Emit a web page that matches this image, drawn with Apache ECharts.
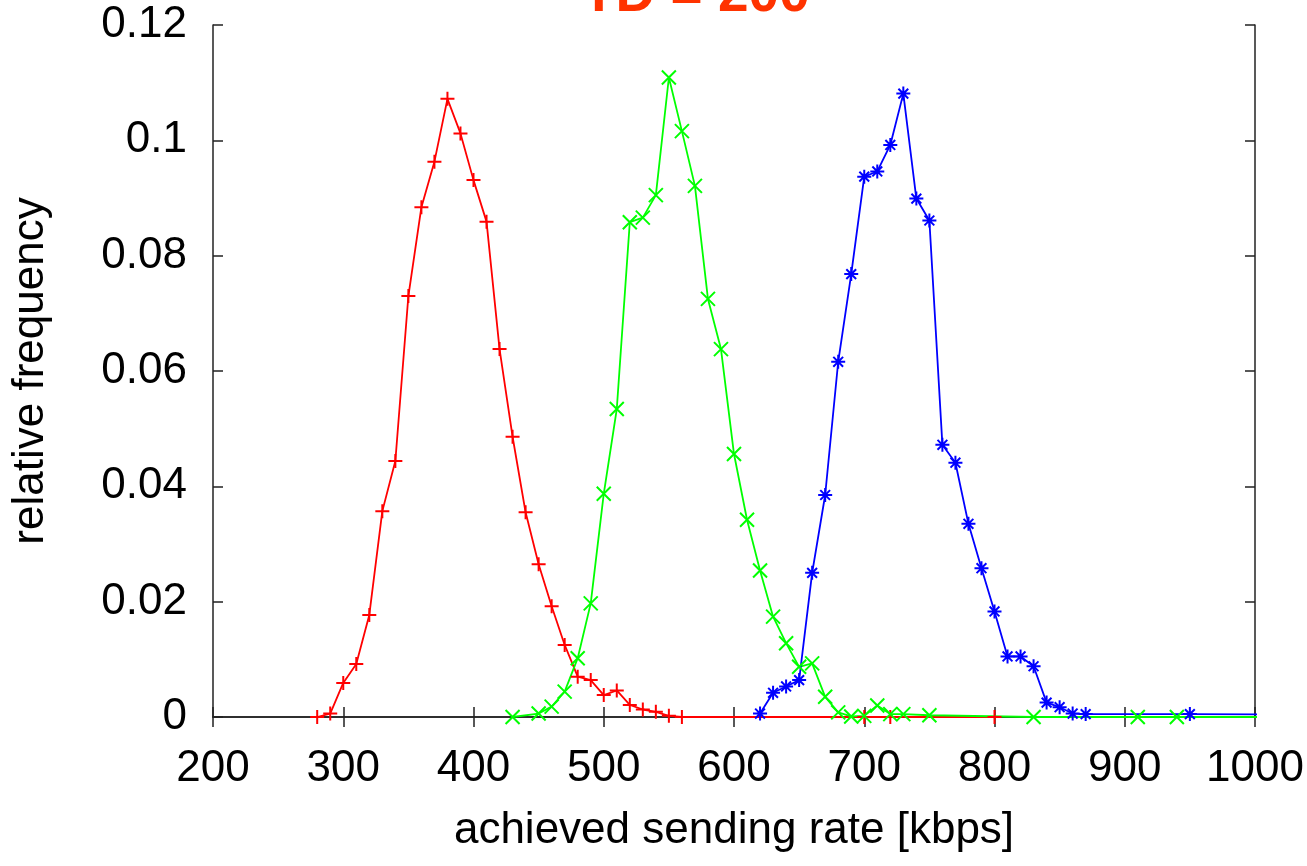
<!DOCTYPE html>
<html>
<head>
<meta charset="utf-8">
<script src="https://cdn.jsdelivr.net/npm/echarts@6/dist/echarts.min.js"></script>
<style>
  html, body { margin: 0; padding: 0; background: #fff; }
  #main { width: 1307px; height: 866px; }
</style>
</head>
<body>
<div id="main"></div>
<script>
// sending rate [kbps] and relative frequency
var redRate  = [280, 290, 300, 310, 320, 330, 340, 350, 360, 370, 380, 390, 400, 410, 420, 430, 440, 450, 460, 470, 480, 490, 500, 510, 520, 530, 540, 550, 560, 700, 720, 800];
var redFreq  = [0, 0.0006, 0.0059, 0.0092, 0.0177, 0.0357, 0.0444, 0.073, 0.0884, 0.0963, 0.1072, 0.1012, 0.0931, 0.0859, 0.0638, 0.0486, 0.0355, 0.0265, 0.0192, 0.0125, 0.0070, 0.0064, 0.0038, 0.0046, 0.0021, 0.0013, 0.0009, 0.0002, 0, 0, 0, 0];

var greenRate = [430, 450, 460, 470, 480, 490, 500, 510, 520, 530, 540, 550, 560, 570, 580, 590, 600, 610, 620, 630, 640, 650, 660, 670, 680, 690, 700, 710, 720, 730, 750, 830, 910, 940, 1050];
var greenFreq = [0, 0.0006, 0.0018, 0.0044, 0.0102, 0.0197, 0.0387, 0.0534, 0.0858, 0.0866, 0.0905, 0.1109, 0.1016, 0.0921, 0.0725, 0.0638, 0.0456, 0.0342, 0.0254, 0.0174, 0.0128, 0.0087, 0.0093, 0.0035, 0.0008, 0.0001, 0.0002, 0.002, 0.0005, 0.0005, 0.0003, 0, 0, 0, 0];

var blueRate = [620, 630, 640, 650, 660, 670, 680, 690, 700, 710, 720, 730, 740, 750, 760, 770, 780, 790, 800, 810, 820, 830, 840, 850, 860, 870, 950, 1050];
var blueFreq = [0.0006, 0.0042, 0.0053, 0.0064, 0.025, 0.0385, 0.0616, 0.0768, 0.0937, 0.0946, 0.0992, 0.1081, 0.0899, 0.0861, 0.0472, 0.0441, 0.0335, 0.0258, 0.0183, 0.0105, 0.0105, 0.0088, 0.0025, 0.0017, 0.0006, 0.0005, 0.0005, 0.0004];

var xTicks = [200, 300, 400, 500, 600, 700, 800, 900, 1000];
var yTicks = [0, 0.02, 0.04, 0.06, 0.08, 0.1, 0.12];

function pairs(xs, ys) {
    return xs.map(function (x, i) { return [x, ys[i]]; });
}

// gnuplot style point shapes
var plusMark  = 'path://M0,5L10,5M5,0L5,10';
var crossMark = 'path://M0,0L10,10M10,0L0,10';
var starMark  = 'path://M0,5L10,5M5,0L5,10M1.5,1.5L8.5,8.5M8.5,1.5L1.5,8.5';

function lineSeries(data, color, mark) {
    return {
        type: 'line',
        data: data,
        symbol: mark,
        symbolSize: 14,
        showAllSymbol: true,
        clip: true,
        animation: false,
        lineStyle: { color: color, width: 1.8 },
        itemStyle: { color: 'none', borderColor: color, borderWidth: 2 },
        emphasis: { disabled: true }
    };
}

var tickFont = { fontFamily: 'Liberation Sans', fontSize: 44, color: '#000' };
var frameLine = { show: true, lineStyle: { color: '#222', width: 1.5 } };
var innerTick = { show: true, inside: true, length: 10, lineStyle: { color: '#222', width: 1.5 } };

var chart = echarts.init(document.getElementById('main'));
chart.setOption({
    backgroundColor: '#fff',
    title: {
        text: 'TD = 200',
        left: 577,
        top: -37,
        textStyle: { fontFamily: 'Liberation Sans', fontSize: 55, fontWeight: 'bold', color: '#ff3300' }
    },
    grid: { left: 213, right: 52, top: 25, bottom: 149 },
    xAxis: [{
        type: 'value',
        min: xTicks[0],
        max: xTicks[xTicks.length - 1],
        interval: 100,
        name: 'achieved sending rate [kbps]',
        nameLocation: 'middle',
        nameGap: 92,
        nameTextStyle: { fontFamily: 'Liberation Sans', fontSize: 44, color: '#000' },
        axisLine: frameLine,
        axisTick: innerTick,
        splitLine: { show: false },
        axisLabel: Object.assign({
            margin: 30,
            formatter: function (v) { return String(v); }
        }, tickFont)
    }, {
        type: 'value',
        position: 'top',
        min: xTicks[0],
        max: xTicks[xTicks.length - 1],
        interval: 100,
        axisLine: frameLine,
        axisTick: innerTick,
        splitLine: { show: false },
        axisLabel: { show: false }
    }],
    yAxis: [{
        type: 'value',
        min: yTicks[0],
        max: yTicks[yTicks.length - 1],
        interval: 0.02,
        name: 'relative frequency',
        nameLocation: 'middle',
        nameGap: 160,
        nameTextStyle: { fontFamily: 'Liberation Sans', fontSize: 44, color: '#000' },
        axisLine: frameLine,
        axisTick: innerTick,
        splitLine: { show: false },
        axisLabel: Object.assign({
            margin: 26,
            formatter: function (v) { return String(parseFloat(v.toFixed(2))); }
        }, tickFont)
    }, {
        type: 'value',
        position: 'right',
        min: yTicks[0],
        max: yTicks[yTicks.length - 1],
        interval: 0.02,
        axisLine: frameLine,
        axisTick: innerTick,
        splitLine: { show: false },
        axisLabel: { show: false }
    }],
    series: [
        lineSeries(pairs(redRate, redFreq), '#ff0000', plusMark),
        lineSeries(pairs(greenRate, greenFreq), '#00ff00', crossMark),
        lineSeries(pairs(blueRate, blueFreq), '#0000ff', starMark)
    ]
});
</script>
</body>
</html>
